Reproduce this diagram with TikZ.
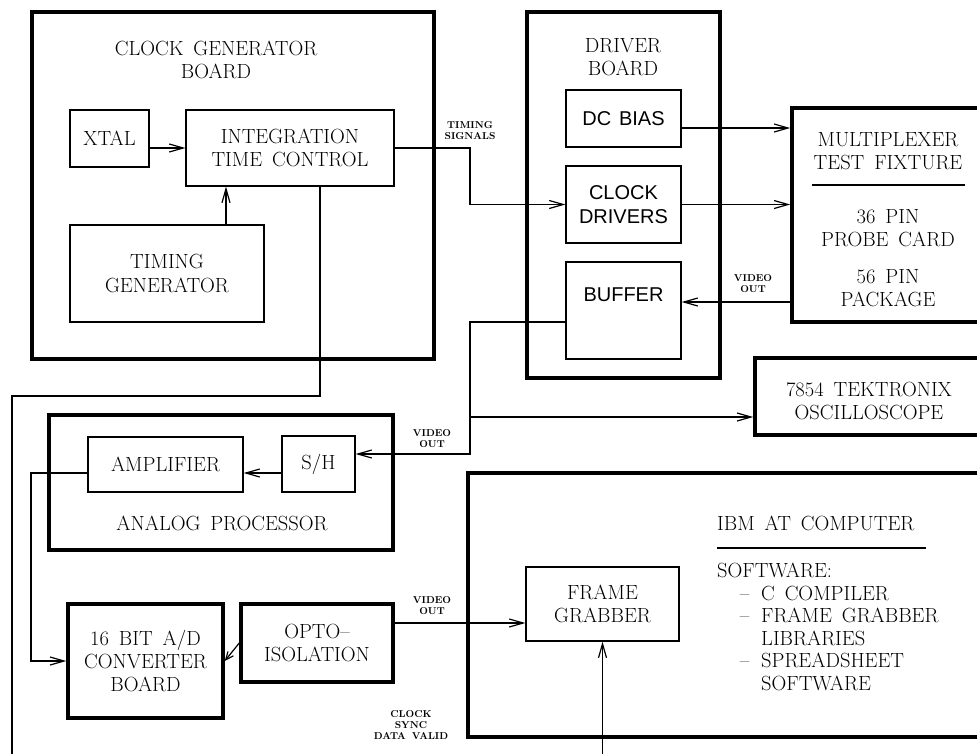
\documentclass[tikz,border=0pt]{standalone}
\usepackage{fontspec}
\setmainfont{Latin Modern Roman}[WordSpace=1.6]
\setsansfont{Liberation Sans}[WordSpace=1.4]
\usetikzlibrary{arrows.meta,positioning}
\newcommand{\swdash}{\makebox[44pt][r]{--\hspace{12pt}}}
\newcommand{\swgap}{\hspace*{44pt}}

\begin{document}
\begin{tikzpicture}[x=1pt, y=-1pt,
  board/.style={draw, line width=3.5pt, inner sep=0pt},
  bigunit/.style={board, align=center, font=\fontsize{20.5}{23}\selectfont},
  unit/.style={draw, line width=1.2pt, inner sep=0pt, align=center, font=\fontsize{20.5}{23.5}\selectfont},
  sunit/.style={unit, font=\sffamily\fontsize{20}{24}\selectfont},
  title/.style={align=center, inner sep=0pt, font=\fontsize{20.5}{23.5}\selectfont},
  sig/.style={align=center, inner sep=1pt, font=\bfseries\fontsize{10}{11}\selectfont},
  arrow/.style={-{Straight Barb[length=14pt,width=8pt]}, line width=1.2pt},
  wire/.style={line width=1.2pt}
]
\useasboundingbox (0,0) rectangle (977,753);
\fill[white] (0,0) rectangle (977,753);
\clip (0,0) rectangle (977,753);

\node[board, minimum width=402, minimum height=347] (cgb) at (233,185.5) {};
\node[title] (cgbtitle) at (216,60) {CLOCK GENERATOR\\BOARD};
\node[unit, minimum width=79, minimum height=57] (xtal) at (109.5,138.5) {XTAL};
\node[unit, minimum width=208, minimum height=76] (itc) at (290,148) {INTEGRATION\\TIME CONTROL};
\node[unit, minimum width=194, minimum height=97] (tgen) at (167,273.5) {TIMING\\GENERATOR};

\node[board, minimum width=193, minimum height=366] (drv) at (623.5,195) {};
\node[title] (drvtitle) at (623,57) {DRIVER\\BOARD};
\node[sunit, minimum width=115, minimum height=57] (dcbias) at (623.5,118.5) {DC BIAS};
\node[sunit, minimum width=115, minimum height=77] (clkdrv) at (623.5,204.5) {CLOCK\\DRIVERS};
\node[sunit, minimum width=115, minimum height=97,
  label={[font=\sffamily\fontsize{20}{24}\selectfont, anchor=center, yshift=-33pt]north:BUFFER}] (buffer) at (623.5,310.5) {};

\node[board, minimum width=220, minimum height=214] (mux) at (902,215) {};
\node[title] (muxtitle) at (888,151) {MULTIPLEXER\\TEST FIXTURE};
\draw[wire] (812,185) -- (965,185);
\node[title] (probe) at (888,228) {36 PIN\\PROBE CARD};
\node[title] (pkg) at (888,288) {56 PIN\\PACKAGE};

\node[board, minimum width=260, minimum height=77] (scope) at (885,396.5) {};
\node[title] (scopetitle) at (869,401) {7854 TEKTRONIX\\OSCILLOSCOPE};

\node[board, minimum width=344, minimum height=135] (anp) at (221,482.5) {};
\node[unit, minimum width=155, minimum height=55] (amp) at (165.5,464.5) {AMPLIFIER};
\node[unit, minimum width=73, minimum height=56] (sh) at (318.5,464) {S/H};
\node[title] (anptitle) at (222,523) {ANALOG PROCESSOR};

\node[bigunit, minimum width=155, minimum height=114] (adc) at (145.5,661) {16 BIT A/D\\CONVERTER\\BOARD};
\node[bigunit, minimum width=152, minimum height=78] (opto) at (317,643) {OPTO--\\ISOLATION};

\node[board, minimum width=560, minimum height=264] (ibm) at (748,605) {};
\node[unit, minimum width=153, minimum height=74] (fg) at (602.5,604) {FRAME\\GRABBER};
\node[title, anchor=west] (ibmtitle) at (717,523) {IBM AT COMPUTER};
\draw[wire] (717,548) -- (926,548);
\node[title, anchor=north west, align=left, font=\fontsize{20.5}{22.5}\selectfont] (sw) at (717,563)
  {SOFTWARE:\\\swdash C COMPILER\\\swdash FRAME GRABBER\\\swgap LIBRARIES\\\swdash SPREADSHEET\\\swgap SOFTWARE};

\node[sig] (tsiglbl) at (470,131) {TIMING\\SIGNALS};
\node[sig] (vout1) at (753,284) {VIDEO\\OUT};
\node[sig] (vout2) at (432,439) {VIDEO\\OUT};
\node[sig] (vout3) at (432,606) {VIDEO\\OUT};
\node[sig] (synclbl) at (411,725) {CLOCK\\SYNC\\DATA VALID};

\coordinate (tsig) at (470,175);
\coordinate (vsplit) at (470,417);
\coordinate (ampdown) at (31,560);
\coordinate (clkbend) at (12,396);
\coordinate (pagebot) at (0,760);
\coordinate (tgup) at ([xshift=59pt]tgen.north);
\coordinate (dcout) at ([yshift=-9.5pt]dcbias.east);
\coordinate (vidin) at ([yshift=8.5pt]buffer.east);
\coordinate (bufout) at ([yshift=-11.5pt]buffer.west);
\coordinate (shin) at ([yshift=10pt]sh.east);
\coordinate (shout) at ([yshift=-9pt]sh.west);
\coordinate (ampout) at ([yshift=-8.5pt]amp.west);
\coordinate (optoout) at ([yshift=20pt]opto.east);
\coordinate (itcdown) at ([xshift=30pt]itc.south);

\draw[arrow] (xtal.east |- itc) -- (itc.west);
\draw[arrow] (tgup) -- (tgup |- itc.south);
\draw[arrow] (itc.east) -| (tsig) |- (clkdrv.west);
\draw[arrow] (dcout) -- (dcout -| mux.west);
\draw[arrow] (clkdrv.east) -- (clkdrv.east -| mux.west);
\draw[arrow] (vidin -| mux.west) -- (vidin);
\draw[arrow] (bufout) -| (vsplit) |- (shin);
\draw[arrow] (vsplit) -- (vsplit -| scope.west);
\draw[arrow] (shout) -- (shout -| amp.east);
\draw[arrow] (ampout) -| (ampdown) |- (adc.west);
\draw[arrow, -{Straight Barb[length=8pt,width=7pt]}] (opto.west) -- (adc.east);
\draw[arrow] (optoout) -- (optoout -| fg.west);
\draw[arrow] (fg.south |- pagebot) -- (fg.south);
\draw[wire] (itcdown) |- (clkbend) -- (clkbend |- pagebot);
\end{tikzpicture}
\end{document}
